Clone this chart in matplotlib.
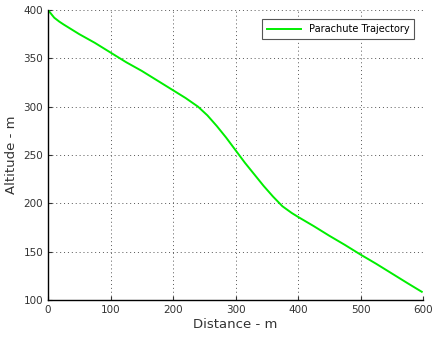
import matplotlib
matplotlib.use("Agg")
import matplotlib.pyplot as plt

# trajectory (distance m, altitude m)
distance = [0, 5, 10, 18, 25, 35, 50, 75, 100, 125, 150, 175, 200, 220, 240, 255,
            270, 285, 300, 315, 330, 345, 360, 375, 390, 400, 425, 450, 475, 500,
            525, 550, 575, 598]
altitude = [400, 396, 392, 388, 385, 381, 375, 366, 356, 346, 337, 327, 317, 309, 300, 291,
            280, 268, 255, 242, 230, 218, 207, 197, 190, 186, 176.5, 166.5, 157, 147,
            137.5, 127.5, 117.5, 108.5]

x_ticks = [0, 100, 200, 300, 400, 500, 600]
y_ticks = [100, 150, 200, 250, 300, 350, 400]

fig = plt.figure(figsize=(4.38, 3.41), dpi=100)
ax = fig.add_axes([0.1096, 0.1202, 0.8562, 0.8505])

ax.plot(distance, altitude, color="#00ee00", linewidth=1.4, label="Parachute Trajectory")

ax.set_xlim(0, 600)
ax.set_ylim(100, 400)
ax.set_xticks(x_ticks)
ax.set_yticks(y_ticks)
ax.tick_params(labelsize=7.5, length=3, direction="in", colors="#333333")
ax.grid(True, linestyle=(0, (1, 3)), color="#555555", linewidth=0.7)

for side in ("top", "right"):
    ax.spines[side].set_visible(False)
for side in ("left", "bottom"):
    ax.spines[side].set_linewidth(1.0)

ax.set_xlabel("Distance - m", fontsize=9.5, color="#333333", labelpad=2)
ax.set_ylabel("Altitude - m", fontsize=9.5, color="#333333", labelpad=4)

leg = ax.legend(loc="upper right", fontsize=7, fancybox=False, framealpha=1,
                edgecolor="#555555", handlelength=3.5, borderpad=0.5,
                bbox_to_anchor=(0.99, 0.985))
leg.get_frame().set_linewidth(0.8)

fig.savefig("out.png", dpi=100)
